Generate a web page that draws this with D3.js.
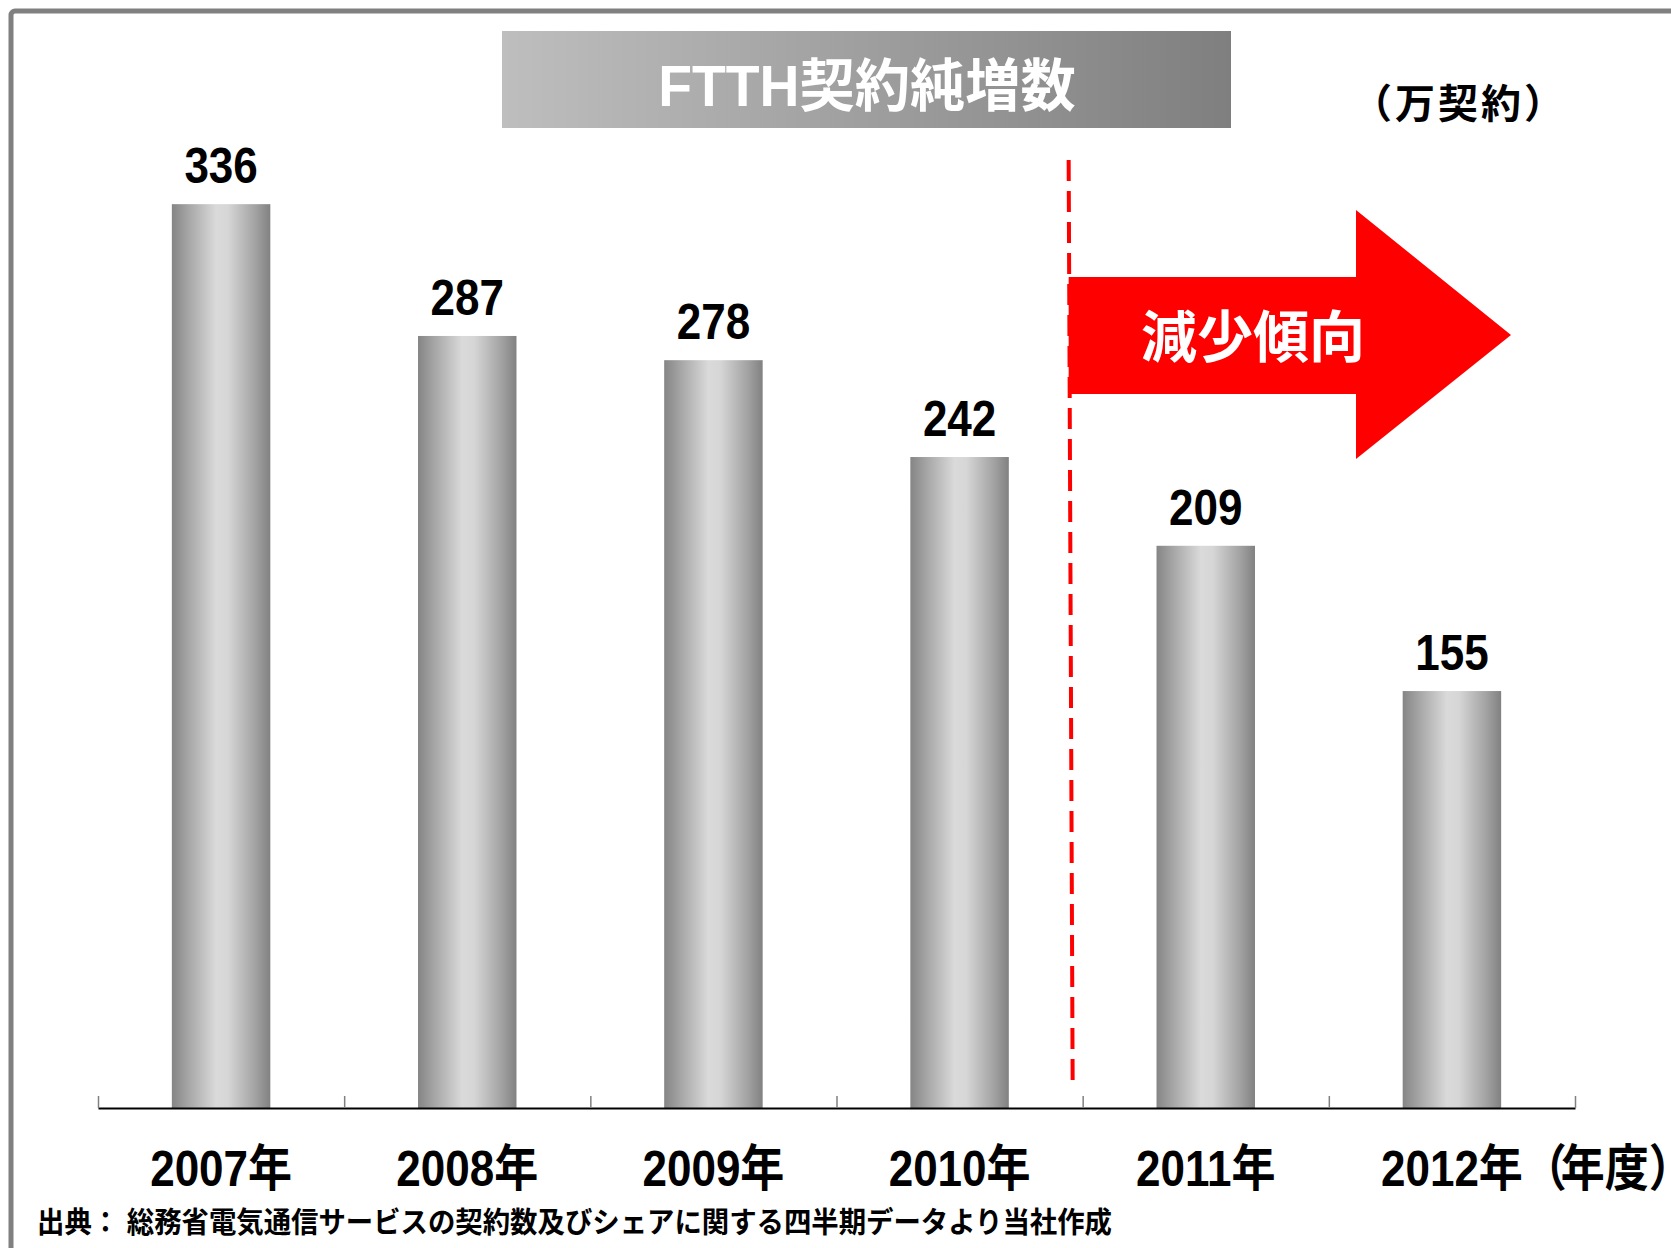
<!DOCTYPE html>
<html>
<head>
<meta charset="utf-8">
<script src="https://cdn.jsdelivr.net/npm/d3@7"></script>
<style>
    body { margin: 0; background: #fff; overflow: hidden; }
    svg { display: block; }
    text { font-family: "Liberation Sans", Arial, "Noto Sans CJK JP", sans-serif; font-weight: bold; }
</style>
</head>
<body>
<svg id="chart"></svg>
<script>
'use strict'

// data
var years = ["2007年", "2008年", "2009年", "2010年", "2011年", "2012年"];
var values = [336, 287, 278, 242, 209, 155];
var title = "FTTH契約純増数";
var unitLabel = "（万契約）";
var periodLabel = ["（", "年度", "）"];
var trendLabel = "減少傾向";
var source = "出典： 総務省電気通信サービスの契約数及びシェアに関する四半期データより当社作成";

var width = 1671,
    height = 1248,
    baseY = 1108;

var svg = d3.select("#chart")
    .attr("width", width)
    .attr("height", height);

var defs = svg.append("defs");

var barGrad = defs.append("linearGradient")
    .attr("id", "barGrad")
    .attr("x1", "0%").attr("x2", "100%")
    .attr("y1", "0%").attr("y2", "0%");
[["0%", "#858585"], ["18%", "#a8a8a8"], ["45%", "#dadada"], ["57%", "#d6d6d6"], ["85%", "#a2a2a2"], ["100%", "#818181"]]
    .forEach(function (s) {
        barGrad.append("stop").attr("offset", s[0]).attr("stop-color", s[1]);
    });

var titleGrad = defs.append("linearGradient")
    .attr("id", "titleGrad")
    .attr("x1", "0%").attr("x2", "100%")
    .attr("y1", "0%").attr("y2", "0%");
titleGrad.append("stop").attr("offset", "0%").attr("stop-color", "#bebebe");
titleGrad.append("stop").attr("offset", "100%").attr("stop-color", "#7f7f7f");

// frame (runs off the right and bottom edge)
svg.append("rect")
    .attr("x", 11).attr("y", 11)
    .attr("width", 1720).attr("height", 1300)
    .attr("rx", 4)
    .attr("fill", "none")
    .attr("stroke", "#808080")
    .attr("stroke-width", 5);

var x = d3.scaleBand()
    .domain(years)
    .range([98, 1575])
    .paddingInner(0.6)
    .paddingOuter(0.3);

var y = d3.scaleLinear()
    .domain([0, 400])
    .range([baseY, baseY - 400 * 2.69]);

// title box
svg.append("rect")
    .attr("x", 502).attr("y", 31)
    .attr("width", 729).attr("height", 97)
    .attr("fill", "url(#titleGrad)");

svg.append("text")
    .attr("transform", "translate(867,106) scale(0.97,1)")
    .attr("text-anchor", "middle")
    .attr("font-size", 57)
    .attr("fill", "#fff")
    .text(title);

svg.append("text")
    .attr("x", 1352).attr("y", 118)
    .attr("font-size", 40)
    .attr("font-family", "Noto Sans CJK JP")
    .attr("letter-spacing", 3)
    .attr("fill", "#000")
    .text(unitLabel);

// bars
svg.append("g")
    .selectAll("rect")
    .data(values)
    .enter().append("rect")
    .attr("x", function (d, i) { return x(years[i]); })
    .attr("y", function (d) { return y(d); })
    .attr("width", x.bandwidth())
    .attr("height", function (d) { return y(0) - y(d); })
    .attr("fill", "url(#barGrad)");

svg.append("g")
    .selectAll("text")
    .data(values)
    .enter().append("text")
    .attr("transform", function (d, i) {
        return "translate(" + (x(years[i]) + x.bandwidth() / 2) + "," + (y(d) - 21) + ") scale(0.88,1)";
    })
    .attr("text-anchor", "middle")
    .attr("font-size", 50)
    .attr("fill", "#000")
    .text(function (d) { return d; });

// axis: ticks on band boundaries, pointing up
var step = x.step();
var edge = d3.scaleLinear()
    .domain([0, years.length])
    .range([x(years[0]) - (step - x.bandwidth()) / 2, x(years[0]) - (step - x.bandwidth()) / 2 + step * years.length]);

var axis = svg.append("g")
    .attr("transform", "translate(0," + baseY + ")")
    .call(d3.axisTop(edge)
        .ticks(years.length)
        .tickSize(12)
        .tickSizeOuter(0)
        .tickFormat(""));
axis.select(".domain").attr("stroke", "#000").attr("stroke-width", 2);
axis.selectAll(".tick line").attr("stroke", "#808080").attr("stroke-width", 1.5);

var labels = svg.append("g")
    .selectAll("text")
    .data(years)
    .enter().append("text")
    .attr("transform", function (d) {
        return "translate(" + (x(d) + x.bandwidth() / 2) + ",1186) scale(0.88,1)";
    })
    .attr("text-anchor", "middle")
    .attr("font-size", 50)
    .attr("fill", "#000")
    .text(function (d) { return d; });

// last label carries the "(年度)" note, kept in the same text element
var last = d3.select(labels.nodes()[years.length - 1]);
var lastW = last.node().getComputedTextLength() * 0.88;
var lastX = x(years[years.length - 1]) + x.bandwidth() / 2 - lastW / 2;
last.attr("text-anchor", "start")
    .attr("transform", "translate(" + lastX + ",1186) scale(0.88,1)");
var squeeze = [-7, 0, -27];
periodLabel.forEach(function (t, i) {
    last.append("tspan")
        .attr("font-family", "Noto Sans CJK JP")
        .attr("letter-spacing", squeeze[i])
        .text(t);
});

// divider between 2010 and 2011
var splitX = edge(4) - 12;
svg.append("line")
    .attr("x1", splitX - 2).attr("y1", 160)
    .attr("x2", splitX + 2).attr("y2", 1085)
    .attr("stroke", "#ff0000")
    .attr("stroke-width", 4)
    .attr("stroke-dasharray", "21,10");

// trend arrow
var arrow = d3.path();
arrow.moveTo(splitX - 2, 277);
arrow.lineTo(1356, 277);
arrow.lineTo(1356, 210);
arrow.lineTo(1511, 335);
arrow.lineTo(1356, 459);
arrow.lineTo(1356, 394);
arrow.lineTo(splitX - 2, 394);
arrow.closePath();
svg.append("path")
    .attr("d", arrow.toString())
    .attr("fill", "#ff0000");

svg.append("text")
    .attr("x", 1253).attr("y", 357)
    .attr("text-anchor", "middle")
    .attr("font-size", 56)
    .attr("font-family", "Noto Sans CJK JP")
    .attr("fill", "#fff")
    .text(trendLabel);

// source note
svg.append("text")
    .attr("x", 37).attr("y", 1233)
    .attr("font-size", 29)
    .attr("font-family", "Noto Sans CJK JP")
    .attr("textLength", 1075)
    .attr("lengthAdjust", "spacingAndGlyphs")
    .attr("fill", "#000")
    .text(source);
</script>
</body>
</html>
